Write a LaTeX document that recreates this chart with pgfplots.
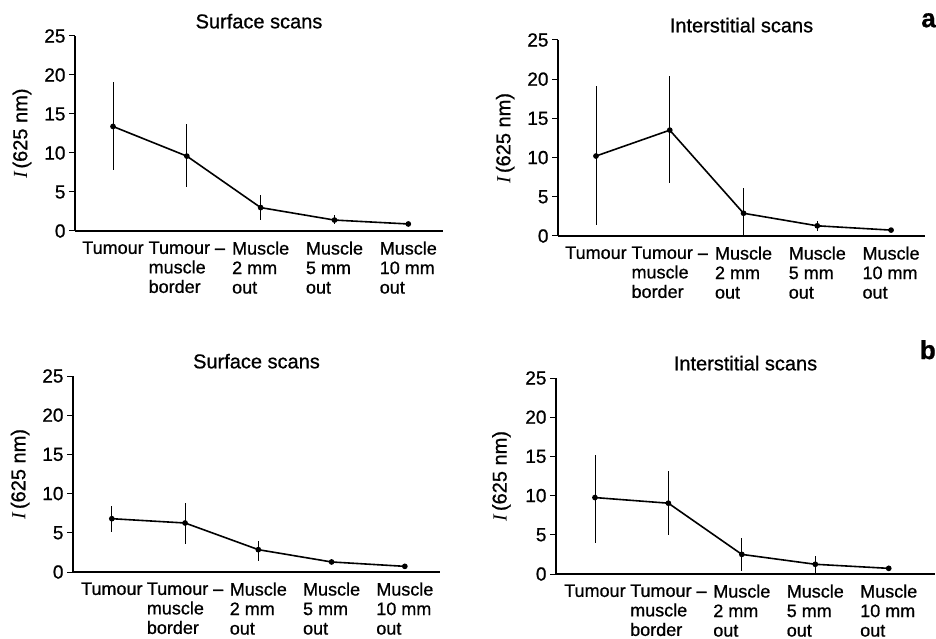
\documentclass[border=0pt]{standalone}
\usepackage{fontspec}
\setmainfont{Liberation Sans}[FakeBold=0.8]
\newfontfamily\seriffont{Liberation Serif}
\usepackage{pgfplots}
\pgfplotsset{compat=1.18}
\usepackage{pgfplotstable}

% top (a), surface scans
\pgfplotstableread{
x y ep em
0 13.4 5.7 5.6
1 9.6 4.1 3.9
2 3.0 1.6 1.6
3 1.4 0.6 0.5
4 0.9 0 0
}\dataAS
% top (a), interstitial scans
\pgfplotstableread{
x y ep em
0 10.2 8.9 8.8
1 13.5 6.9 6.7
2 2.9 3.2 2.9
3 1.3 0.6 0.7
4 0.75 0 0
}\dataAI
% bottom (b), surface scans
\pgfplotstableread{
x y ep em
0 6.8 1.6 1.7
1 6.25 2.6 2.65
2 2.85 1.15 1.5
3 1.28 0.22 0.28
4 0.72 0 0
}\dataBS
% bottom (b), interstitial scans
\pgfplotstableread{
x y ep em
0 9.75 5.45 5.75
1 9.03 4.05 4.05
2 2.5 2.06 2.12
3 1.24 1.1 1.24
4 0.72 0 0
}\dataBI

\pgfplotsset{
  panel/.style={
    scale only axis,
    axis x line*=bottom,
    axis y line*=left,
    axis line style={line width=1.3bp},
    ymin=0, ymax=25, ytick={0,5,...,25},
    xtick={0,1,2,3,4},
    xticklabels={Tumour, {Tumour --\\muscle\\border}, {Muscle\\2 mm\\out}, {Muscle\\5 mm\\out}, {Muscle\\10 mm\\out}},
    x tick style={draw=none},
    y tick style={line width=1bp, black},
    major tick length=6bp,
    tick align=outside,
    /pgf/number format/assume math mode=true,
    tick label style={font=\fontsize{18bp}{19.5bp}\selectfont},
    yticklabel style={font=\fontsize{19bp}{20bp}\selectfont},
    xticklabel style={align=left, anchor=north, yshift=-1bp},
    title style={font=\fontsize{20bp}{22bp}\selectfont, yshift=-2bp},
    ylabel={{\seriffont\itshape I}\,(625 nm)},
    ylabel style={at={(rel axis cs:-0.144,0.5)}, rotate=0, anchor=center, font=\fontsize{20bp}{22bp}\selectfont},
  },
  series/.style={black, line width=1.6bp, mark=*, mark size=2bp,
    error bars/.cd, y dir=both, y explicit, error mark=none,
    error bar style={line width=0.8bp}},
}

\begin{document}
\begin{tikzpicture}
\useasboundingbox (0,0) rectangle (936bp,639bp);

\begin{axis}[panel, anchor=south west, at={(75bp,408bp)},
  width=368bp, height=195bp, xmin=-0.515, xmax=4.47,
  title={Surface scans}]
\addplot[series] table[x=x, y=y, y error plus=ep, y error minus=em] {\dataAS};
\end{axis}

\begin{axis}[panel, anchor=south west, at={(558bp,403bp)},
  width=367bp, height=196bp, xmin=-0.515, xmax=4.46,
  title={Interstitial scans}]
\addplot[series] table[x=x, y=y, y error plus=ep, y error minus=em] {\dataAI};
\end{axis}

\begin{axis}[panel, anchor=south west, at={(73bp,67bp)},
  width=367bp, height=196bp, xmin=-0.53, xmax=4.48,
  title={Surface scans}]
\addplot[series] table[x=x, y=y, y error plus=ep, y error minus=em] {\dataBS};
\end{axis}

\begin{axis}[panel, anchor=south west, at={(556bp,65bp)},
  width=379bp, height=196bp, xmin=-0.53, xmax=4.63,
  title={Interstitial scans}]
\addplot[series] table[x=x, y=y, y error plus=ep, y error minus=em] {\dataBI};
\end{axis}

\node[font=\fontsize{26bp}{28bp}\selectfont\bfseries, anchor=north east, inner sep=0pt] at (936bp,626bp) {a};
\node[font=\fontsize{26bp}{28bp}\selectfont\bfseries, anchor=north east, inner sep=0pt] at (936bp,299bp) {b};
\end{tikzpicture}
\end{document}
